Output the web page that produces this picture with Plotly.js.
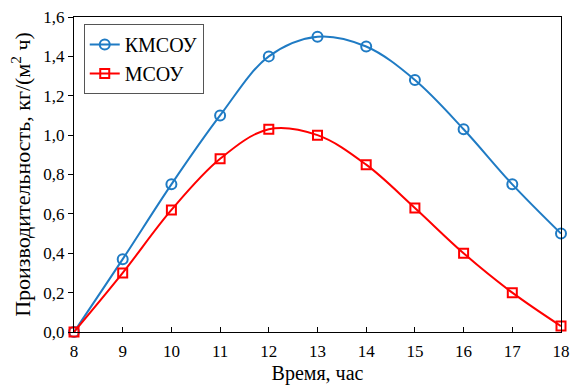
<!DOCTYPE html>
<html>
<head>
<meta charset="utf-8">
<script src="https://cdn.plot.ly/plotly-3.0.1.min.js"></script>
<style>
  html, body { margin: 0; padding: 0; background: #fff; }
  #chart { width: 572px; height: 385px; }
</style>
</head>
<body>
<div id="chart"></div>
<script>
// Hours of the day
const hours = [8, 9, 10, 11, 12, 13, 14, 15, 16, 17, 18];
// Productivity, kg/(m² h)
const kmsou = [0.00, 0.37, 0.75, 1.10, 1.40, 1.50, 1.45, 1.28, 1.03, 0.75, 0.50];
const msou  = [0.00, 0.30, 0.62, 0.88, 1.03, 1.00, 0.85, 0.63, 0.40, 0.20, 0.03];
const seriesNames = ['КМСОУ', 'МСОУ'];

const serif = "'Liberation Serif', 'Times New Roman', serif";

const traces = [
  {
    x: hours, y: kmsou, name: seriesNames[0],
    type: 'scatter', mode: 'lines+markers', cliponaxis: false,
    line: { color: '#1f7bc4', width: 2, shape: 'spline', smoothing: 1 },
    marker: { symbol: 'circle-open', size: 10, color: '#1f7bc4', line: { width: 2 } }
  },
  {
    x: hours, y: msou, name: seriesNames[1],
    type: 'scatter', mode: 'lines+markers', cliponaxis: false,
    line: { color: '#ff0000', width: 2, shape: 'spline', smoothing: 1 },
    marker: { symbol: 'square-open', size: 9, color: '#ff0000', line: { width: 2 } }
  }
];

const layout = {
  width: 572, height: 385,
  margin: { l: 74, r: 11, t: 17, b: 53 },
  paper_bgcolor: '#fff', plot_bgcolor: '#fff',
  separators: ', ',
  font: { family: serif, color: '#000', size: 17 },
  showlegend: true,
  legend: {
    x: 0.02, y: 0.978, xanchor: 'left', yanchor: 'top',
    bgcolor: '#fff', bordercolor: '#555', borderwidth: 1,
    font: { family: serif, size: 20, color: '#000' },
    tracegroupgap: 0
  },
  xaxis: {
    range: [8, 18], dtick: 1, tick0: 8,
    showgrid: false, zeroline: false,
    showline: true, linecolor: '#000', linewidth: 1, mirror: true,
    ticks: 'inside', ticklen: 5, tickcolor: '#000',
    ticklabelstandoff: 4,
    tickfont: { family: serif, size: 17 },
    title: { text: 'Время, час', font: { family: serif, size: 20 }, standoff: 8 }
  },
  yaxis: {
    range: [0, 1.6], dtick: 0.2, tick0: 0, tickformat: '.1f',
    showgrid: false, zeroline: false,
    showline: true, linecolor: '#000', linewidth: 1, mirror: true,
    ticks: 'outside', ticklen: 5, tickcolor: '#000',
    tickfont: { family: serif, size: 17 },
    title: { text: 'Производительность, кг/(м<sup>2</sup> ч)', font: { family: serif, size: 22 }, standoff: 6 }
  },
  annotations: [
    {
      // tail of the heading line above the plot
      text: 'р', xref: 'paper', yref: 'paper', x: 0.232, y: 1.0,
      xanchor: 'center', yanchor: 'bottom', yshift: 38,
      showarrow: false, font: { family: serif, size: 26, color: '#000' }
    }
  ]
};

Plotly.newPlot('chart', traces, layout, { displayModeBar: false, staticPlot: true });
</script>
</body>
</html>
